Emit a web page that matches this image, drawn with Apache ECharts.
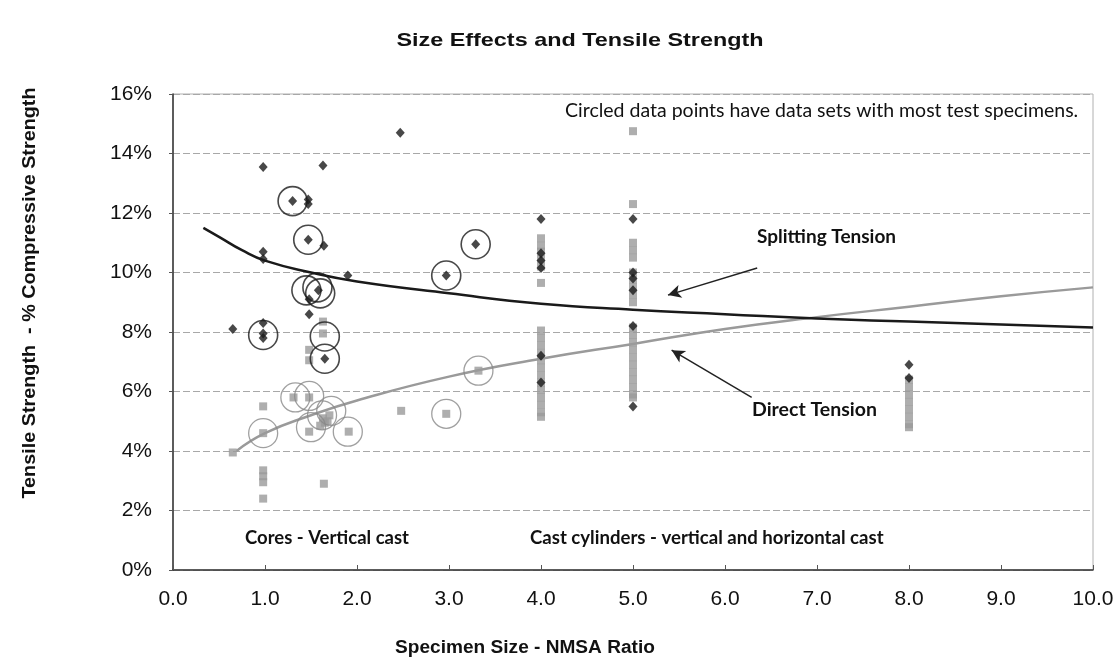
<!DOCTYPE html>
<html>
<head>
<meta charset="utf-8">
<script src="https://cdn.jsdelivr.net/npm/echarts@6/dist/echarts.min.js"></script>
<style>html,body{margin:0;padding:0;background:#fff;}#c{width:1118px;height:667px;}</style>
</head>
<body>
<div id="c"></div>
<script>
// Splitting tension (black diamonds) [NMSA ratio, % compressive]
const splitPoints = [
  [0.65,8.1],[0.98,13.55],[0.98,10.7],[0.98,10.45],[0.98,8.3],[0.98,7.95],[0.98,7.8],
  [1.30,12.4],[1.47,12.45],[1.47,12.3],[1.47,11.1],[1.64,10.9],[1.63,13.6],[1.90,9.9],
  [1.58,9.4],[1.48,9.1],[1.48,8.6],[1.65,7.1],[2.47,14.7],[2.97,9.9],[3.29,10.95],
  [4,11.8],[4,10.65],[4,10.4],[4,10.15],[4,7.2],[4,6.3],
  [5,11.8],[5,10.0],[5,9.8],[5,9.4],[5,8.2],[5,5.5],
  [8,6.9],[8,6.45]
];
// Direct tension (gray squares)
const directPoints = [
  [0.65,3.95],[0.98,5.5],[0.98,4.6],[0.98,3.35],[0.98,3.15],[0.98,2.95],[0.98,2.4],
  [1.31,5.8],[1.48,5.8],[1.48,4.65],[1.48,7.4],[1.48,7.05],[1.63,8.35],[1.63,7.95],
  [1.63,5.1],[1.65,4.95],[1.68,5.0],[1.6,4.85],[1.7,5.2],[1.91,4.65],[1.64,2.9],
  [2.48,5.35],[2.97,5.25],[3.32,6.7],
  [4,11.15],[4,10.9],[4,10.7],[4,10.45],[4,10.2],[4,9.65],[4,8.05],[4,7.8],[4,7.55],[4,7.3],
  [4,7.05],[4,6.8],[4,6.55],[4,6.3],[4,6.05],[4,5.8],[4,5.55],[4,5.3],[4,5.15],
  [5,14.75],[5,12.3],[5,11.0],[5,10.75],[5,10.5],[5,10.0],[5,9.75],[5,9.5],[5,9.25],[5,9.0],
  [5,8.15],[5,7.9],[5,7.65],[5,7.4],[5,7.15],[5,6.9],[5,6.65],[5,6.4],[5,6.15],[5,5.9],[5,5.8],
  [8,6.4],[8,6.15],[8,5.9],[8,5.65],[8,5.4],[8,5.15],[8,4.9],[8,4.8]
];
// Circled (largest data sets)
const splitCircles = [[1.30,12.4],[1.47,11.1],[1.45,9.4],[1.57,9.5],[1.6,9.3],[0.98,7.9],[1.65,7.85],[1.65,7.1],[2.97,9.9],[3.29,10.95]];
const directCircles = [[0.98,4.6],[1.33,5.8],[1.48,5.85],[1.5,4.8],[1.62,5.2],[1.72,5.35],[1.9,4.65],[2.97,5.25],[3.32,6.7]];
// Trend curves
const splitFitX = [0.33,0.5,0.75,1,1.5,2,3,4,5,6,7,8,9,10];
const splitFitY = [11.5,11.2,10.75,10.4,10.0,9.7,9.3,8.95,8.75,8.6,8.45,8.35,8.25,8.15];
const directFitX = [0.69,1,1.5,2,3,4,5,6,7,8,9,10];
const directFitY = [4.0,4.6,5.2,5.7,6.5,7.1,7.6,8.1,8.5,8.85,9.2,9.5];
// Arrows [from, to]
const splitArrow = [[6.35,10.15],[5.38,9.24]];
const directArrow = [[6.29,5.8],[5.42,7.39]];

const chart = echarts.init(document.getElementById('c'), null, {renderer:'canvas'});
const axisFont = 'Liberation Sans, Arial, sans-serif';
const zip = (xs, ys) => xs.map((x,i)=>[x, ys[i]]);
const note = (text, x, y, size, bold) => ({type:'text', x:x, y:y,
  style:{text:text, font:(bold?'bold ':'')+size+'px Lato, "Open Sans", sans-serif', fill:'#111', align:'left', verticalAlign:'middle'}});

chart.setOption({
  animation:false,
  backgroundColor:'#fff',
  grid:{left:173, right:25, top:94, bottom:97, show:true, borderColor:'#b0b0b0', borderWidth:1, backgroundColor:'transparent'},
  xAxis:{type:'value', min:0, max:10, interval:1,
    axisLine:{lineStyle:{color:'#333', width:1.5}},
    axisTick:{show:true, inside:true, length:5, lineStyle:{color:'#555'}},
    splitLine:{show:false},
    axisLabel:{formatter:v=>v.toFixed(1), fontFamily:axisFont, fontSize:21, color:'#111', margin:19}},
  yAxis:{type:'value', min:0, max:16, interval:2,
    axisLine:{show:true, lineStyle:{color:'#333', width:1.5}},
    axisTick:{show:true, length:4, lineStyle:{color:'#555'}},
    splitLine:{show:true, lineStyle:{color:'#a8a8a8', type:[7,3], width:1}},
    axisLabel:{formatter:v=>v+'%', fontFamily:axisFont, fontSize:21, color:'#111', margin:21}},
  graphic:[
    {type:'text', x:580, y:41, scaleX:1.23, style:{text:'Size Effects and Tensile Strength', font:'bold 19px Liberation Sans, Arial', fill:'#111', align:'center', verticalAlign:'middle'}},
    {type:'text', x:30, y:293, rotation:Math.PI/2, scaleX:1.1, style:{text:'Tensile Strength  - % Compressive Strength', font:'bold 18px Liberation Sans, Arial', fill:'#111', align:'center', verticalAlign:'middle'}},
    {type:'text', x:525, y:648, scaleX:1.06, style:{text:'Specimen Size - NMSA Ratio', font:'bold 18px Liberation Sans, Arial', fill:'#111', align:'center', verticalAlign:'middle'}},
    note('Circled data points have data sets with most test specimens.', 565, 111, 19.5, false),
    note('Splitting Tension', 757, 237, 19, true),
    note('Direct Tension', 752, 410, 19.5, true),
    note('Cores - Vertical cast', 245, 538, 18.5, true),
    note('Cast cylinders - vertical and horizontal cast', 530, 538, 18.6, true)
  ],
  series:[
    {type:'line', data:zip(directFitX, directFitY), smooth:true, showSymbol:false, z:2,
      lineStyle:{color:'#9a9a9a', width:2.5}},
    {type:'line', data:zip(splitFitX, splitFitY), smooth:true, showSymbol:false, z:2,
      lineStyle:{color:'#1a1a1a', width:2.5}},
    {type:'scatter', data:directPoints, symbol:'rect', symbolSize:8, z:3,
      itemStyle:{color:'#9a9a9a'}},
    {type:'scatter', data:splitPoints, symbol:'diamond', symbolSize:[9,10], z:4,
      itemStyle:{color:'#1a1a1a'}},
    {type:'scatter', data:directCircles, symbol:'circle', symbolSize:29, z:5,
      itemStyle:{color:'rgba(0,0,0,0)', borderColor:'#888', borderWidth:1.3}},
    {type:'scatter', data:splitCircles, symbol:'circle', symbolSize:29, z:5,
      itemStyle:{color:'rgba(0,0,0,0)', borderColor:'#1a1a1a', borderWidth:1.6}},
    {type:'scatter', data:[], z:6,
      markLine:{silent:true, symbol:['none','arrow'], symbolSize:[10,13], label:{show:false},
        lineStyle:{color:'#222', width:1.5, type:'solid'},
        data:[
          [{coord:splitArrow[0]},{coord:splitArrow[1]}],
          [{coord:directArrow[0]},{coord:directArrow[1]}]
        ]}}
  ]
});
</script>
</body>
</html>
